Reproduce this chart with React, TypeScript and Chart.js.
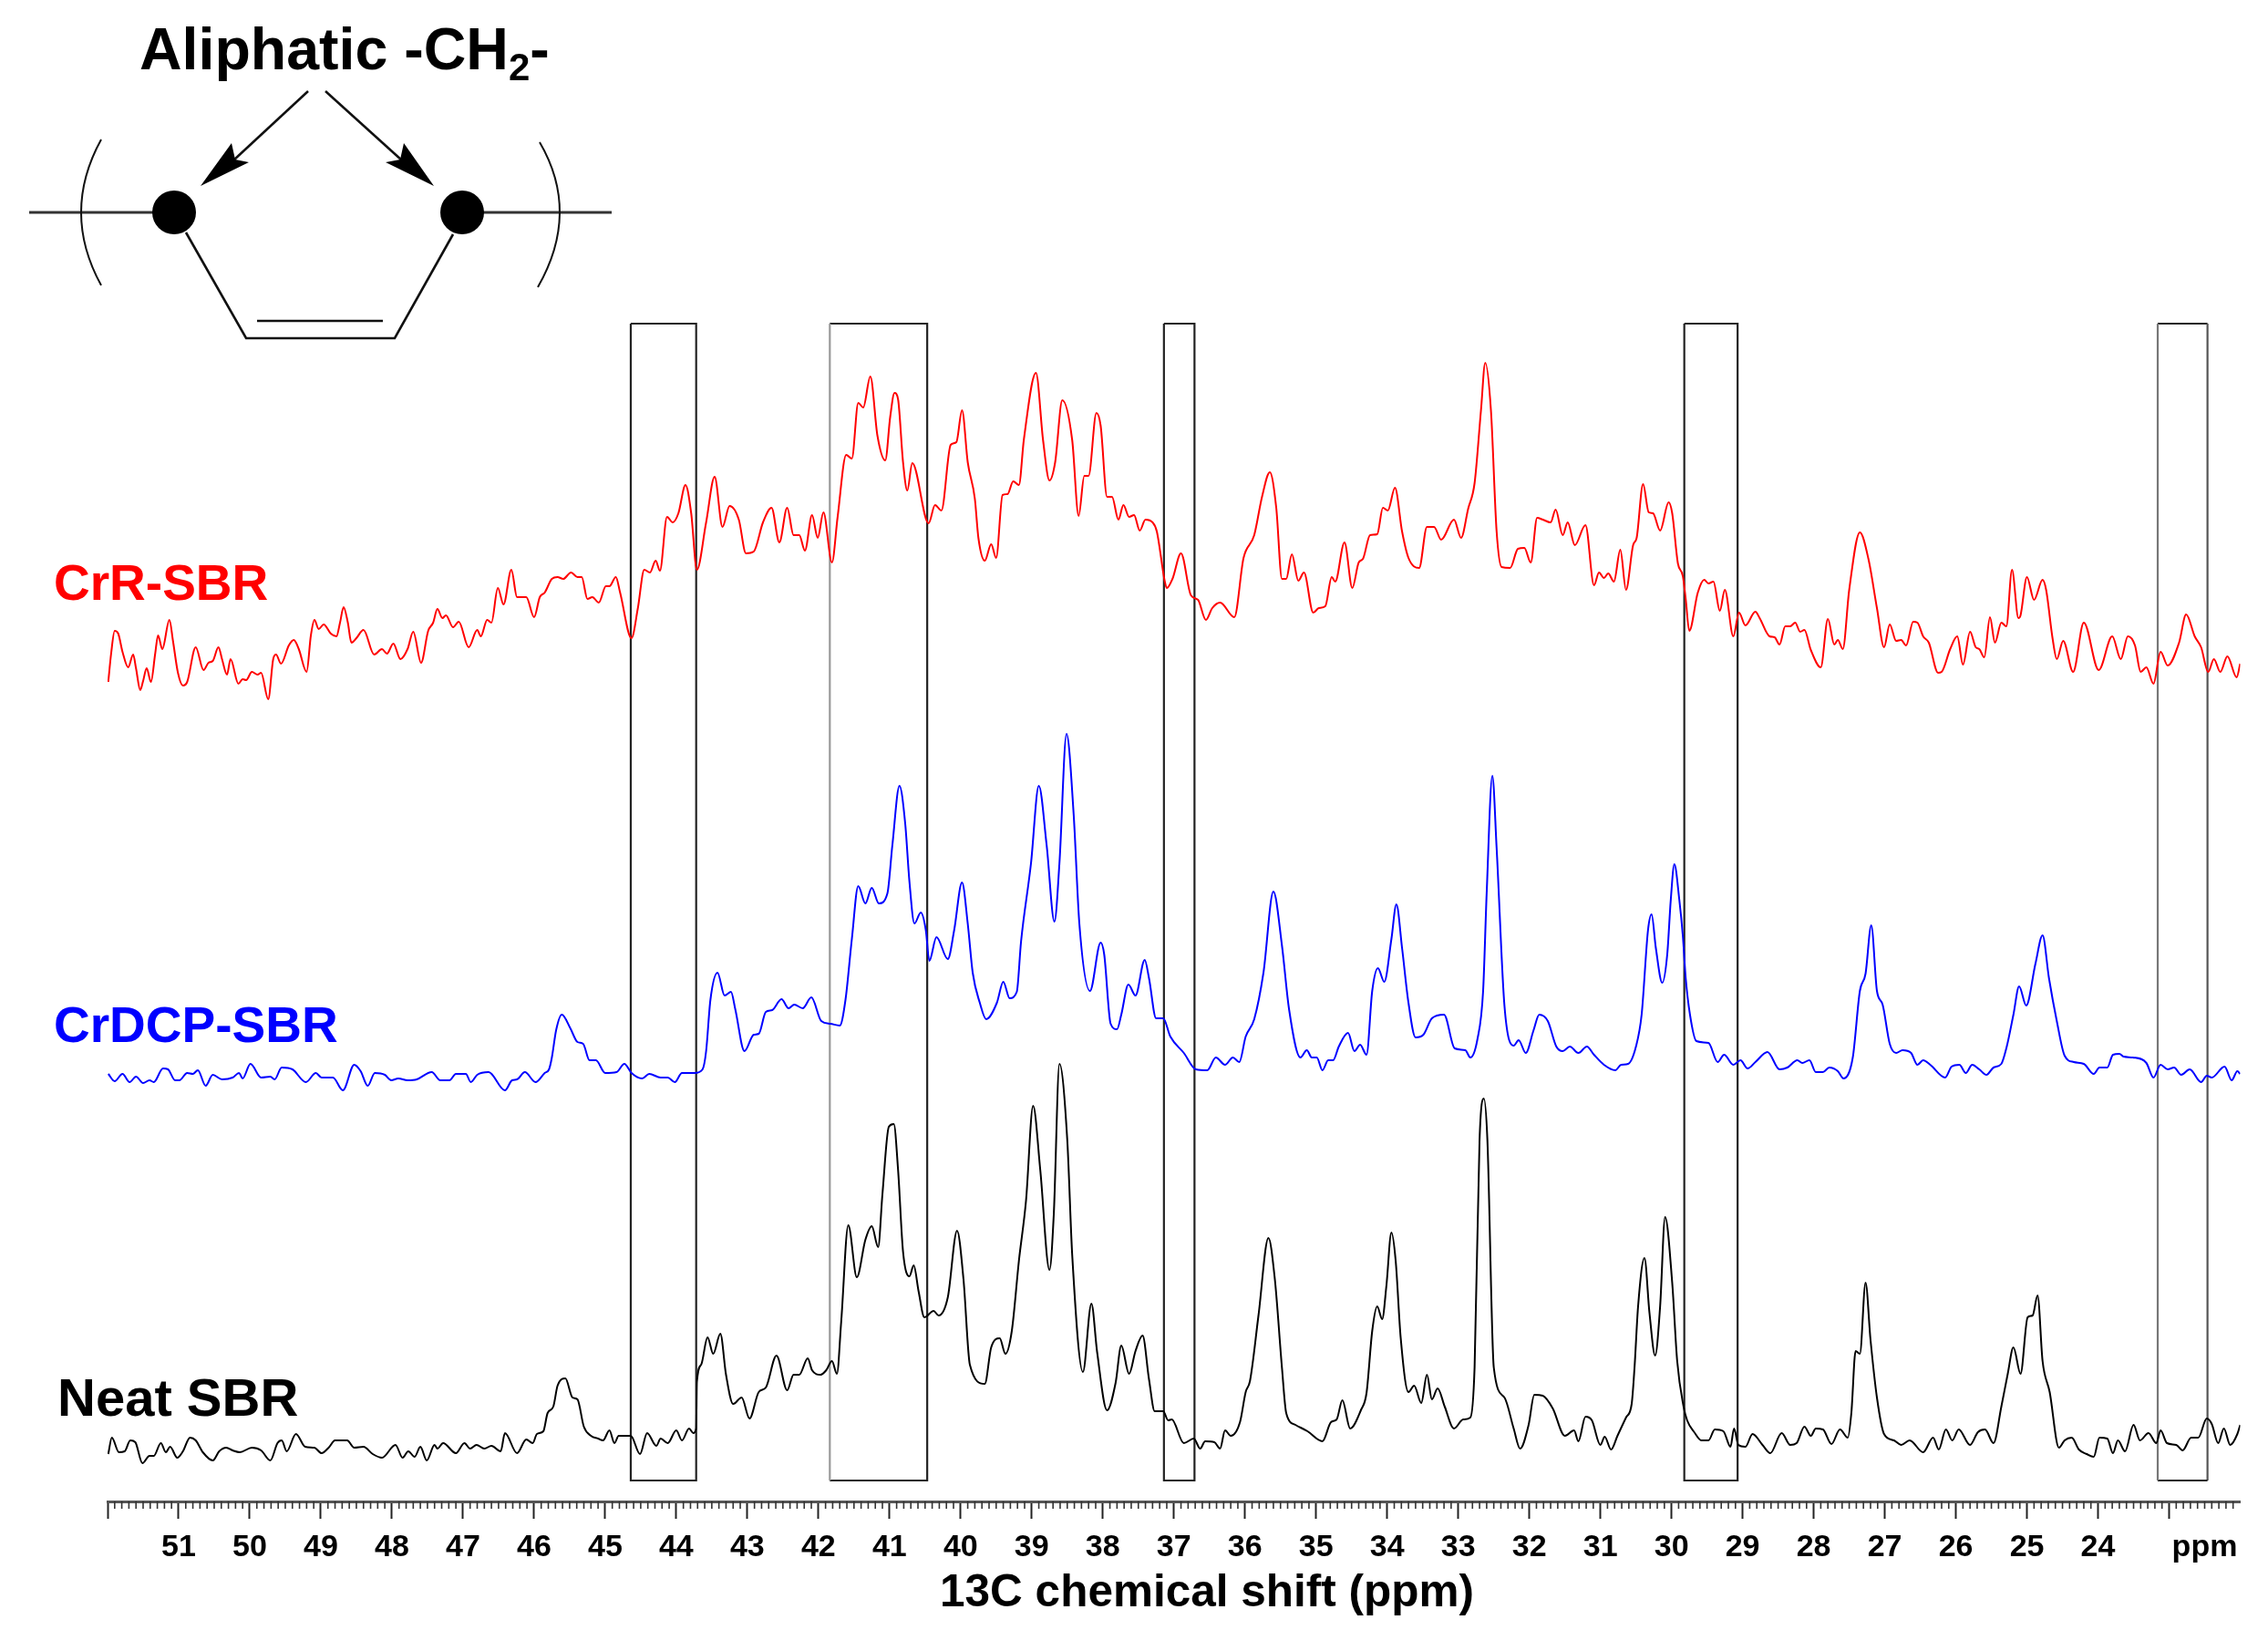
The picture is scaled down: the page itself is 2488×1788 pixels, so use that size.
import { useEffect, useRef } from "react";
import { Chart, registerables } from "chart.js";

Chart.register(...registerables);

const FONT = '"Liberation Sans", Arial, sans-serif';

// [ppm, intensity]; intensities keep the stacking offset of each trace
const crRSpectrum = [
  [51.99,899],[51.95,930],[51.90,955],[51.85,952],[51.79,932],[51.71,915],[51.64,929],[51.60,914],[51.54,890],[51.50,900],[51.45,914],[51.39,899],[51.33,930],[51.29,950],[51.23,935],[51.13,967],[51.08,944],[51.01,909],[50.94,895],[50.88,899],[50.76,937],[50.65,912],[50.58,920],[50.52,922],[50.44,937],[50.39,924],[50.32,907],[50.27,924],[50.16,897],[50.10,902],[50.05,901],[49.97,910],[49.89,907],[49.84,909],[49.74,880],[49.67,924],[49.63,929],[49.56,919],[49.45,939],[49.38,945],[49.31,935],[49.20,910],[49.14,950],[49.09,967],[49.03,957],[48.96,962],[48.86,952],[48.78,949],[48.73,964],[48.68,981],[48.62,964],[48.57,942],[48.50,947],[48.40,956],[48.25,929],[48.14,935],[48.07,930],[47.98,941],[47.88,924],[47.78,935],[47.70,954],[47.59,920],[47.49,955],[47.42,964],[47.36,979],[47.29,969],[47.24,972],[47.14,959],[47.06,965],[46.92,937],[46.80,956],[46.75,949],[46.66,967],[46.60,964],[46.51,1002],[46.43,984],[46.32,1022],[46.24,992],[46.11,992],[46.00,970],[45.92,992],[45.85,997],[45.75,1012],[45.67,1014],[45.59,1012],[45.48,1019],[45.39,1014],[45.33,1014],[45.25,990],[45.18,992],[45.09,986],[44.99,1004],[44.94,1004],[44.85,1014],[44.79,997],[44.63,947],[44.54,980],[44.45,1022],[44.37,1019],[44.29,1032],[44.23,1021],[44.13,1080],[44.05,1074],[43.97,1084],[43.87,1115],[43.79,1084],[43.71,1022],[43.58,1074],[43.46,1124],[43.35,1069],[43.25,1092],[43.12,1077],[43.02,1040],[42.91,1042],[42.78,1074],[42.66,1090],[42.55,1052],[42.44,1090],[42.35,1060],[42.27,1060],[42.19,1043],
  [42.09,1082],[42.01,1057],[41.93,1085],[41.81,1030],[41.73,1080],[41.61,1148],[41.53,1144],[41.44,1205],[41.37,1200],[41.27,1234],[41.17,1169],[41.06,1142],[40.99,1190],[40.93,1216],[40.88,1209],[40.81,1140],[40.75,1109],[40.68,1139],[40.45,1073],[40.36,1093],[40.27,1087],[40.14,1159],[40.06,1162],[39.98,1197],[39.90,1140],[39.80,1100],[39.75,1057],[39.66,1032],[39.57,1050],[39.50,1035],[39.41,1104],[39.34,1105],[39.26,1119],[39.18,1115],[39.11,1165],[38.94,1238],[38.84,1164],[38.75,1120],[38.67,1140],[38.57,1208],[38.43,1164],[38.34,1081],[38.26,1125],[38.20,1125],[38.09,1194],[38.03,1180],[37.94,1102],[37.87,1102],[37.78,1077],[37.71,1093],[37.63,1080],[37.56,1082],[37.48,1065],[37.40,1077],[37.30,1074],[37.24,1064],[37.13,1010],[37.10,1002],[37.02,1012],[36.90,1040],[36.76,994],[36.66,989],[36.55,967],[36.46,980],[36.35,986],[36.15,970],[36.02,1035],[35.87,1060],[35.76,1102],[35.65,1129],[35.56,1090],[35.48,1012],[35.42,1012],[35.34,1039],[35.25,1010],[35.17,1019],[35.04,975],[34.96,980],[34.87,982],[34.78,1014],[34.73,1009],[34.60,1052],[34.49,1002],[34.40,1030],[34.34,1034],[34.24,1060],[34.14,1061],[34.06,1090],[33.99,1087],[33.89,1112],[33.79,1064],[33.70,1035],[33.55,1024],[33.44,1069],[33.34,1069],[33.24,1055],[33.06,1077],[32.96,1057],[32.86,1089],[32.77,1117],[32.68,1197],[32.62,1249],[32.54,1197],[32.46,1064],[32.39,1025],
  [32.27,1024],[32.16,1045],[32.07,1046],[31.98,1030],[31.89,1079],[31.81,1077],[31.70,1074],[31.63,1088],[31.53,1060],[31.46,1074],[31.36,1049],[31.21,1071],[31.09,1005],[31.02,1019],[30.95,1013],[30.89,1018],[30.81,1009],[30.72,1044],[30.64,1000],[30.54,1049],[30.49,1057],[30.40,1116],[30.32,1085],[30.26,1084],[30.16,1065],[30.04,1096],[29.99,1084],[29.91,1029],[29.84,1015],[29.80,990],[29.75,955],[29.63,997],[29.54,1011],[29.48,1007],[29.41,1009],[29.32,977],[29.25,1000],[29.13,949],[29.05,975],[28.96,961],[28.82,976],[28.76,969],[28.62,949],[28.55,948],[28.48,940],[28.40,960],[28.33,960],[28.26,964],[28.19,954],[28.13,956],[28.04,934],[27.90,915],[27.80,968],[27.71,940],[27.66,945],[27.59,935],[27.50,1000],[27.35,1063],[27.23,1034],[27.11,980],[27.01,937],[26.93,962],[26.84,944],[26.77,945],[26.70,939],[26.60,965],[26.54,964],[26.46,949],[26.38,942],[26.25,909],[26.20,910],[26.08,935],[25.98,949],[25.90,918],[25.80,954],[25.72,937],[25.67,935],[25.60,926],[25.52,970],[25.45,942],[25.36,964],[25.29,960],[25.21,1022],[25.12,969],[25.09,972],[25.00,1014],[24.90,989],[24.78,1011],[24.73,1000],[24.64,947],[24.58,924],[24.49,944],[24.35,910],[24.20,964],[23.99,912],[23.80,949],[23.68,924],[23.58,949],[23.48,939],[23.40,910],[23.32,915],[23.22,897],[23.12,932],[23.02,917],[22.86,942],[22.76,973],[22.64,949],[22.55,937],[22.45,910],[22.37,924],[22.28,910],[22.18,927],[22.05,904],[22.00,919],
];

const crDcpSpectrum = [
  [51.99,469],[51.90,461],[51.79,469],[51.69,460],[51.60,466],[51.50,459],[51.41,462],[51.35,460],[51.22,475],[51.15,474],[51.05,462],[50.99,462],[50.88,470],[50.80,469],[50.73,473],[50.62,456],[50.52,468],[50.39,463],[50.24,465],[50.15,470],[50.10,464],[49.99,480],[49.84,465],[49.71,466],[49.65,463],[49.55,476],[49.40,474],[49.21,460],[49.07,470],[48.99,465],[48.83,465],[48.69,451],[48.53,479],[48.44,472],[48.34,456],[48.24,470],[48.10,468],[48.01,462],[47.91,464],[47.78,462],[47.65,463],[47.44,471],[47.32,462],[47.19,462],[47.10,469],[46.96,469],[46.89,460],[46.80,468],[46.64,471],[46.41,451],[46.31,462],[46.24,463],[46.13,471],[45.98,460],[45.85,470],[45.79,474],[45.75,487],[45.69,517],[45.61,534],[45.49,519],[45.39,504],[45.31,502],[45.22,484],[45.13,484],[45.00,470],[44.84,471],[44.73,480],[44.63,470],[44.48,464],[44.38,469],[44.22,465],[44.12,465],[44.02,460],[43.92,470],[43.74,470],[43.63,474],[43.58,494],[43.52,550],[43.42,580],[43.32,555],[43.23,559],[43.17,540],[43.04,494],[42.91,512],[42.84,513],[42.74,537],[42.65,539],[42.52,551],[42.42,541],[42.34,545],[42.22,541],
  [42.10,553],[41.96,527],[41.83,524],[41.70,522],[41.62,550],[41.53,617],[41.44,675],[41.34,656],[41.25,673],[41.15,656],[41.03,667],[40.96,720],[40.86,785],[40.78,744],[40.72,680],[40.65,634],[40.56,646],[40.49,627],[40.44,593],[40.34,619],[40.18,595],[40.09,627],[39.98,679],[39.90,634],[39.83,580],[39.73,547],[39.64,529],[39.49,547],[39.40,570],[39.31,552],[39.21,559],[39.15,614],[39.01,700],[38.90,785],[38.79,720],[38.68,636],[38.61,700],[38.51,842],[38.41,754],[38.33,634],[38.18,560],[38.03,613],[37.98,600],[37.89,524],[37.80,518],[37.74,534],[37.64,567],[37.54,555],[37.41,594],[37.35,574],[37.25,530],[37.15,530],[37.05,510],[36.86,492],[36.69,474],[36.53,473],[36.41,487],[36.28,479],[36.17,487],[36.08,482],[35.99,510],[35.87,529],[35.74,580],[35.60,669],[35.48,610],[35.38,540],[35.22,487],[35.13,495],[35.06,487],[34.99,487],[34.91,473],[34.83,484],[34.76,484],[34.68,499],[34.55,514],[34.46,494],[34.38,501],[34.29,490],[34.21,560],[34.13,585],[34.04,570],[33.94,617],[33.87,655],[33.79,607],[33.70,547],[33.60,509],[33.49,512],[33.37,530],[33.20,534],[33.05,497],[32.90,495],[32.83,487],[32.73,507],[32.65,560],[32.60,667],[32.52,796],[32.46,717],[32.35,544],
  [32.22,500],[32.15,506],[32.05,492],[31.94,517],[31.86,534],[31.74,527],[31.62,499],[31.53,494],[31.43,499],[31.31,492],[31.19,499],[31.09,490],[30.95,479],[30.79,473],[30.71,479],[30.61,480],[30.50,499],[30.42,534],[30.33,627],[30.28,644],[30.22,607],[30.13,569],[30.06,600],[30.01,660],[29.96,699],[29.89,660],[29.84,620],[29.80,574],[29.74,534],[29.65,505],[29.48,503],[29.35,482],[29.26,490],[29.13,479],[29.03,484],[28.93,475],[28.82,482],[28.65,493],[28.48,474],[28.37,476],[28.23,484],[28.16,481],[28.06,484],[27.97,471],[27.87,471],[27.78,476],[27.66,472],[27.58,464],[27.45,487],[27.35,560],[27.27,579],[27.19,632],[27.11,560],[27.03,545],[26.93,502],[26.84,492],[26.75,495],[26.63,492],[26.54,479],[26.46,484],[26.36,479],[26.15,465],[26.06,477],[25.95,479],[25.86,470],[25.77,479],[25.67,474],[25.57,468],[25.47,476],[25.36,480],[25.29,497],[25.19,534],[25.11,565],[25.01,544],[24.88,590],[24.78,621],[24.69,574],[24.58,527],[24.47,489],[24.34,482],[24.20,480],[24.06,469],[23.98,476],[23.87,476],[23.79,490],[23.70,491],[23.64,488],[23.51,487],[23.32,481],[23.22,465],[23.12,479],[23.02,474],[22.93,476],[22.83,468],[22.71,474],[22.55,460],[22.47,467],[22.40,465],[22.22,477],[22.12,462],[22.04,472],[22.00,469],
];

const neatSpectrum = [
  [51.99,52],[51.94,70],[51.84,54],[51.76,55],[51.68,67],[51.61,65],[51.51,42],[51.41,50],[51.35,50],[51.25,64],[51.18,54],[51.12,60],[51.02,48],[50.94,55],[50.84,70],[50.76,67],[50.66,54],[50.52,45],[50.43,55],[50.33,59],[50.24,56],[50.14,54],[49.97,59],[49.84,56],[49.71,45],[49.61,64],[49.55,67],[49.48,55],[49.35,74],[49.22,60],[49.09,59],[48.99,53],[48.89,59],[48.80,67],[48.63,67],[48.53,59],[48.40,60],[48.27,52],[48.14,48],[47.95,62],[47.85,48],[47.77,55],[47.68,49],[47.60,60],[47.51,45],[47.40,62],[47.36,58],[47.28,64],[47.10,53],[46.98,64],[46.90,58],[46.81,62],[46.70,58],[46.60,61],[46.47,55],[46.41,75],[46.24,53],[46.11,68],[46.02,64],[45.96,74],[45.87,77],[45.81,97],[45.73,104],[45.67,127],[45.56,135],[45.46,114],[45.39,112],[45.30,82],[45.20,72],[45.10,69],[45.03,67],[44.94,78],[44.87,64],[44.81,72],[44.64,72],[44.51,52],[44.41,75],[44.28,61],[44.22,69],[44.12,64],[44.00,78],[43.92,67],[43.82,80],[43.76,75],
  [43.72,80],[43.71,131],[43.65,150],[43.56,180],[43.48,162],[43.38,184],[43.30,139],[43.20,107],[43.08,114],[42.97,91],[42.84,120],[42.74,125],[42.59,160],[42.44,122],[42.35,139],[42.27,139],[42.15,157],[42.09,144],[41.97,139],
  [41.89,144],[41.81,154],[41.74,140],[41.68,197],[41.58,303],[41.46,246],[41.34,287],[41.25,302],[41.16,279],[41.10,337],[41.01,411],[40.94,414],[40.88,364],[40.81,274],[40.72,247],[40.66,259],[40.59,230],[40.51,202],[40.38,209],[40.31,204],[40.18,224],[40.05,297],[39.96,244],[39.87,150],[39.66,129],[39.57,169],[39.45,179],[39.37,162],[39.28,187],[39.18,264],[39.08,330],[38.98,434],[38.88,364],[38.75,254],[38.69,314],[38.61,480],[38.50,397],[38.43,270],[38.28,142],[38.16,217],[38.08,164],[37.94,100],[37.82,130],[37.74,171],[37.63,140],[37.54,165],[37.44,182],[37.35,134],[37.27,99],[37.15,99],[37.08,89],[37.03,90],[36.86,64],[36.72,69],[36.63,58],[36.56,66],[36.43,65],[36.35,58],[36.28,78],[36.20,72],[36.07,87],[35.99,120],[35.93,132],[35.81,204],[35.67,289],[35.58,244],[35.48,147],[35.42,97],[35.29,84],[35.12,77],[34.91,66],[34.79,87],[34.71,90],[34.63,111],[34.52,80],[34.37,100],[34.29,119],[34.21,187],[34.14,214],[34.07,200],[34.01,237],[33.94,295],[33.88,264],[33.81,180],[33.70,120],[33.62,127],[33.52,108],[33.44,139],[33.37,112],[33.29,124],[33.19,104],[33.06,80],[32.93,90],[32.83,92],[32.77,147],[32.70,397],[32.64,442],[32.59,397],[32.50,147],[32.35,114],
  [32.22,80],[32.13,58],[32.01,84],[31.93,117],[31.81,116],[31.67,102],[31.50,72],[31.37,78],[31.31,66],[31.21,93],[31.12,89],[31.00,62],[30.94,71],[30.85,57],[30.76,72],[30.64,92],[30.56,107],[30.52,147],[30.47,214],[30.38,267],[30.31,207],[30.23,160],[30.16,214],[30.09,312],[29.99,240],[29.92,154],[29.83,104],[29.78,89],[29.68,76],[29.58,67],[29.48,67],[29.39,79],[29.27,77],[29.17,60],[29.12,80],[29.06,62],[28.96,60],[28.86,74],[28.72,62],[28.61,53],[28.45,75],[28.33,62],[28.24,64],[28.13,82],[28.04,72],[27.97,80],[27.87,79],[27.75,63],[27.63,79],[27.52,70],[27.47,97],[27.41,165],[27.35,162],[27.27,240],[27.20,177],[27.11,114],[27.01,74],[26.87,67],[26.77,62],[26.65,67],[26.46,54],[26.32,70],[26.24,57],[26.14,79],[26.05,67],[25.96,79],[25.80,62],[25.69,76],[25.59,79],[25.47,64],[25.36,104],[25.27,140],[25.19,169],[25.09,140],[24.99,202],[24.92,204],[24.85,226],[24.78,154],[24.68,120],[24.55,59],[24.47,67],[24.37,70],[24.27,57],[24.16,52],[24.06,49],[23.98,70],[23.87,69],[23.79,53],[23.72,67],[23.62,55],[23.50,84],[23.41,67],[23.29,75],[23.18,64],[23.12,78],[23.03,64],[22.90,62],[22.81,56],[22.69,70],[22.59,70],[22.47,91],[22.40,85],[22.31,64],[22.23,80],[22.14,62],[22.04,74],[22.00,84],
];

// highlighted windows as [high ppm, low ppm]
const boxRanges = [
  [44.64, 43.72],
  [41.84, 40.47],
  [37.14, 36.71],
  [29.82, 29.07],
  [23.16, 22.46],
];
const boxTop = 1292;
const boxBottom = 23;
const boxSideColors = [
  ["#222", "#222"],
  ["#999", "#222"],
  ["#222", "#222"],
  ["#222", "#222"],
  ["#777", "#555"],
];

const labelledTicks = [51, 50, 49, 48, 47, 46, 45, 44, 43, 42, 41, 40, 39, 38, 37, 36, 35, 34, 33, 32, 31, 30, 29, 28, 27, 26, 25, 24];
const blankTicks = [52, 23];
const unitTick = 22.5;
const unitLabel = "ppm";
const xTitle = "13C chemical shift (ppm)";

const seriesLabels = [
  { text: "CrR-SBR", color: "#ff0000", x: 59, y: 658, size: 55 },
  { text: "CrDCP-SBR", color: "#0000ff", x: 59, y: 1143, size: 55 },
  { text: "Neat SBR", color: "#000000", x: 63, y: 1553, size: 58 },
];

const toPoints = (pairs: number[][]) => pairs.map(([x, y]) => ({ x, y }));

const spectrumDataset = (label: string, pairs: number[][], color: string) => ({
  label,
  data: toPoints(pairs),
  borderColor: color,
  borderWidth: 2,
  pointRadius: 0,
  cubicInterpolationMode: "monotone",
});

const boxDataset = ([hi, lo]: number[], i: number) => ({
  label: "box" + i,
  data: toPoints([[hi, boxTop], [lo, boxTop], [lo, boxBottom], [hi, boxBottom], [hi, boxTop]]),
  borderColor: "#222",
  borderWidth: 2.2,
  pointRadius: 0,
  tension: 0,
  segment: {
    borderColor: (ctx: any) => {
      if (ctx.p0DataIndex === 1) return boxSideColors[i][1];
      if (ctx.p0DataIndex === 3) return boxSideColors[i][0];
      return "#222";
    },
  },
});

const line = (ctx: CanvasRenderingContext2D, pts: number[][], width: number, color = "#111") => {
  ctx.beginPath();
  pts.forEach(([x, y], i) => (i ? ctx.lineTo(x, y) : ctx.moveTo(x, y)));
  ctx.lineWidth = width;
  ctx.strokeStyle = color;
  ctx.stroke();
};

const fillPath = (ctx: CanvasRenderingContext2D, pts: number[][]) => {
  ctx.beginPath();
  pts.forEach(([x, y], i) => (i ? ctx.lineTo(x, y) : ctx.moveTo(x, y)));
  ctx.closePath();
  ctx.fillStyle = "#000";
  ctx.fill();
};

// minor ticks every 0.1 ppm: grid.tickLength can't vary per tick
const minorTicks = {
  id: "minorTicks",
  afterDraw(chart: any) {
    const { ctx, scales, chartArea } = chart;
    ctx.save();
    for (let i = 220; i <= 520; i++) {
      if (i % 10 === 0) continue;
      const x = scales.x.getPixelForValue(i / 10);
      line(ctx, [[x, chartArea.bottom], [x, chartArea.bottom + 8]], 1.6, "#333");
    }
    ctx.restore();
  },
};

// structure sketch, trace names and axis title
const annotations = {
  id: "annotations",
  afterDraw(chart: any) {
    const { ctx } = chart;
    ctx.save();
    ctx.textAlign = "left";
    ctx.textBaseline = "alphabetic";
    ctx.fillStyle = "#000";

    ctx.font = `bold 64.5px ${FONT}`;
    const head = "Aliphatic -CH";
    ctx.fillText(head, 153, 76);
    let x = 153 + ctx.measureText(head).width;
    ctx.font = `bold 42px ${FONT}`;
    ctx.fillText("2", x, 88);
    x += ctx.measureText("2").width;
    ctx.font = `bold 64.5px ${FONT}`;
    ctx.fillText("-", x, 76);

    line(ctx, [[338, 100], [256, 176]], 2.6);
    line(ctx, [[357, 100], [441, 176]], 2.6);
    fillPath(ctx, [[220, 204], [254, 157], [258, 175], [273, 178]]);
    fillPath(ctx, [[476, 204], [443, 157], [439, 175], [423, 178]]);

    line(ctx, [[32, 233], [191, 233]], 3, "#333");
    line(ctx, [[507, 233], [671, 233]], 3, "#333");
    line(ctx, [[204, 255], [270, 371], [433, 371], [497, 257]], 2.6);
    line(ctx, [[282, 352], [420, 352]], 2.6);
    [191, 507].forEach((cx) => {
      ctx.beginPath();
      ctx.arc(cx, 233, 24, 0, Math.PI * 2);
      ctx.fill();
    });
    ctx.lineWidth = 2;
    ctx.strokeStyle = "#111";
    ctx.beginPath();
    ctx.moveTo(111, 153);
    ctx.quadraticCurveTo(67, 233, 111, 313);
    ctx.moveTo(592, 156);
    ctx.quadraticCurveTo(637, 233, 590, 315);
    ctx.stroke();

    seriesLabels.forEach((s) => {
      ctx.font = `bold ${s.size}px ${FONT}`;
      ctx.fillStyle = s.color;
      ctx.fillText(s.text, s.x, s.y);
    });

    ctx.fillStyle = "#000";
    ctx.font = `bold 49.5px ${FONT}`;
    ctx.textAlign = "center";
    ctx.fillText(xTitle, 1324, 1762);
    ctx.restore();
  },
};

const App = () => {
  const chartRef = useRef<HTMLCanvasElement>(null);

  useEffect(() => {
    const chart = new Chart(chartRef.current, {
      type: "line",
      data: {
        datasets: [
          spectrumDataset("CrR-SBR", crRSpectrum, "#ff0000"),
          spectrumDataset("CrDCP-SBR", crDcpSpectrum, "#0000ff"),
          spectrumDataset("Neat SBR", neatSpectrum, "#000000"),
          ...boxRanges.map(boxDataset),
        ],
      },
      options: {
        responsive: false,
        animation: false,
        devicePixelRatio: 1,
        layout: { padding: { left: 118, right: 30.5, top: 0, bottom: 0 } },
        plugins: { legend: { display: false }, tooltip: { enabled: false }, title: { display: false } },
        scales: {
          x: {
            type: "linear",
            reverse: true,
            min: 22,
            max: 52,
            afterBuildTicks: (scale: any) => {
              scale.ticks = [...blankTicks, ...labelledTicks, unitTick].map((value) => ({ value }));
            },
            afterFit: (scale: any) => {
              scale.height = 141;
            },
            border: { display: true, color: "#555", width: 3 },
            grid: {
              drawOnChartArea: false,
              tickLength: 19,
              tickWidth: 2,
              tickColor: (ctx: any) => (ctx.tick && ctx.tick.value === unitTick ? "transparent" : "#222"),
            },
            ticks: {
              autoSkip: false,
              maxRotation: 0,
              minRotation: 0,
              padding: 11,
              color: "#000",
              font: { family: FONT, weight: "bold", size: 34 },
              callback: (value: number) => {
                if (value === unitTick) return unitLabel;
                return blankTicks.includes(value) ? "" : String(value);
              },
            },
          },
          y: { type: "linear", display: false, min: 0, max: 1647 },
        },
      },
      plugins: [minorTicks, annotations],
    });

    return () => chart.destroy();
  }, []);

  return (
    <div style={{ position: "fixed", left: 0, top: 0, width: 2488, height: 1788, background: "#fff" }}>
      <canvas ref={chartRef} width={2488} height={1788} style={{ display: "block" }} />
    </div>
  );
};

export default App;
